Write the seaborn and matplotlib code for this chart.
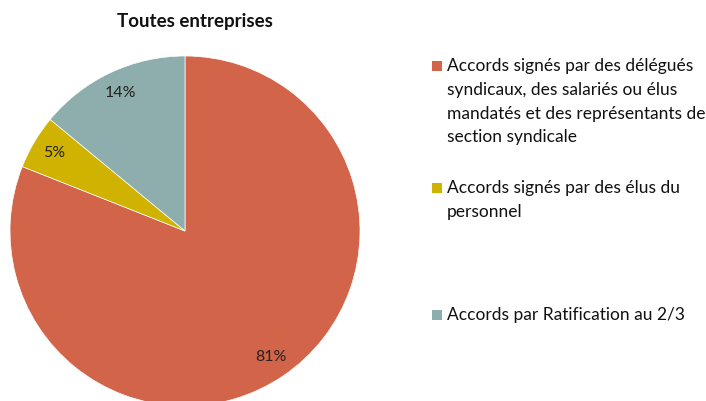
import matplotlib.pyplot as plt
import matplotlib.patches as mpatches
import seaborn as sns

# Data
categories = [
    "Accords signés par des délégués\nsyndicaux, des salariés ou élus\nmandatés et des représentants de\nsection syndicale",
    "Accords signés par des élus du\npersonnel",
    "Accords par Ratification au 2/3",
]
shares = [81, 5, 14]
colors = ["#D2644A", "#CFB300", "#8EADAD"]

sns.set_theme(style="white")
plt.rcParams["font.family"] = ["Lato", "DejaVu Sans"]

fig = plt.figure(figsize=(7.06, 4.01), dpi=100)

# pie axes: square of 350 px, centre at (185, 231) px from top-left
ax = fig.add_axes([10 / 706, -5 / 401, 350 / 706, 350 / 401])
ax.pie(shares, colors=colors, startangle=90, counterclock=False,
       autopct="%d%%", pctdistance=0.87,
       wedgeprops=dict(linewidth=0.5, edgecolor="white"),
       textprops=dict(fontsize=11.5, color="#222222"))
ax.set_xlim(-1, 1)
ax.set_ylim(-1, 1)
ax.set_aspect("equal")

fig.text(195 / 706, 1 - 22 / 401, "Toutes entreprises", ha="center", va="center",
         fontsize=13.5, fontweight="bold", color="#111111")

# legend drawn by hand (uneven spacing in the original)
legend_y = [66, 188, 315]
for label, col, y in zip(categories, colors, legend_y):
    fig.patches.append(mpatches.Rectangle((432 / 706, 1 - (y + 5) / 401), 10 / 706, 10 / 401,
                                          transform=fig.transFigure, facecolor=col,
                                          edgecolor="none"))
    fig.text(447 / 706, 1 - (y - 8) / 401, label, ha="left", va="top",
             fontsize=12.5, linespacing=1.6, color="#111111")

fig.savefig("out.png", dpi=100)
